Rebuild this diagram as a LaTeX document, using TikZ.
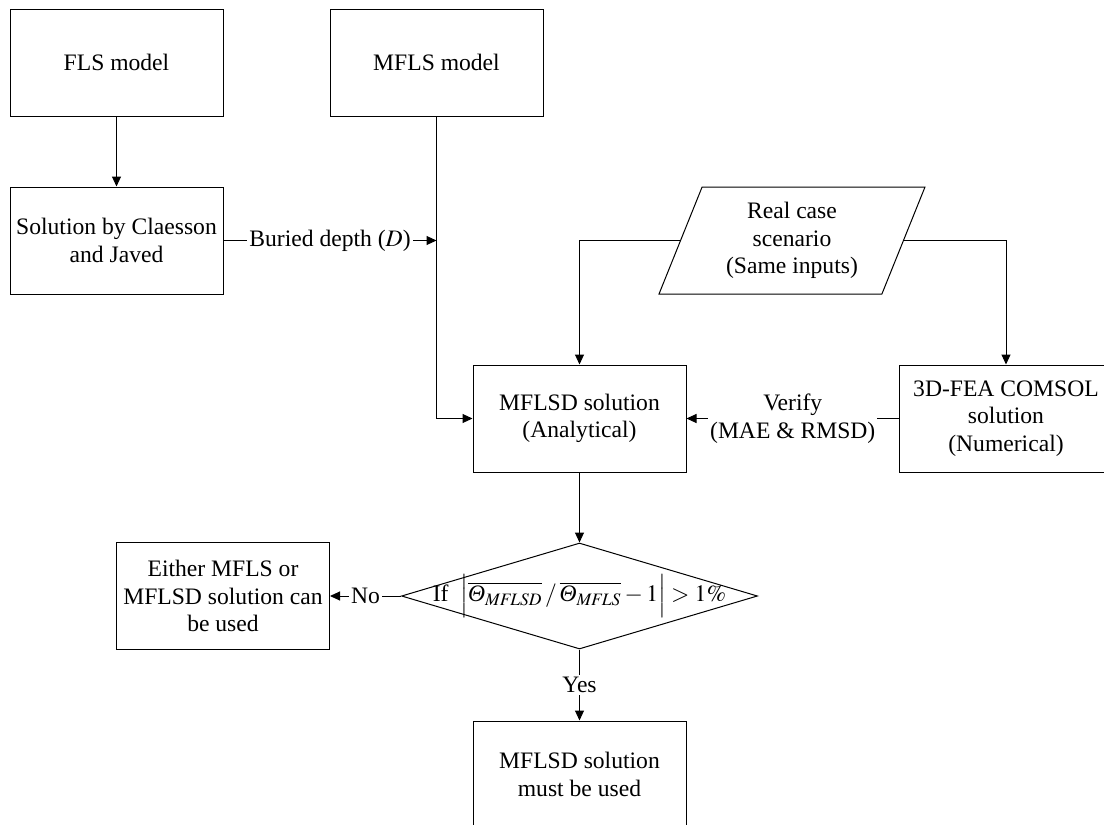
\documentclass[tikz,border=0pt]{standalone}
\usepackage{mathptmx}
\usepackage{fontspec}
\setmainfont{Liberation Serif}
\usetikzlibrary{shapes.geometric,arrows.meta}

\begin{document}
\begin{tikzpicture}[x=0.5pt, y=-0.5pt, line width=0.5pt,
  font=\fontsize{11.8}{13.8}\selectfont,
  box/.style={draw, rectangle, minimum width=106.5pt, minimum height=53.5pt, inner sep=2pt, align=center},
  inputbox/.style={draw, trapezium, trapezium left angle=63, trapezium right angle=117, trapezium stretches body, minimum width=133pt, minimum height=53.5pt, inner sep=2pt, align=center},
  decision/.style={draw, diamond, minimum width=178pt, minimum height=53pt, inner sep=0pt},
  lbl/.style={fill=white, inner sep=1pt, align=center},
  arr/.style={-{Triangle[width=4.5pt,length=5pt]}}]
\useasboundingbox (0,0) rectangle (1104,825);

\node (fls) at (116.5,62.5) [box]{FLS model};
\node (mfls) at (436.5,62.5) [box]{MFLS model};
\node (claesson) at (116.5,240.5) [box]{Solution by Claesson\\and Javed};
\node (realcase) at (792,240.5) [inputbox]{Real case\\scenario\\(Same inputs)};
\node (mflsd) at (579.5,418.5) [box]{MFLSD solution\\(Analytical)};
\node (fea) at (1006,418.5) [box]{3D-FEA COMSOL\\solution\\(Numerical)};
\node (cond) at (579.5,596) [decision]{};
\node (condtext) at (cond.center) {If\ \ $\Bigl|\overline{\mbox{\itshape Θ}_{\mathit{MFLSD}}}\,/\,\overline{\mbox{\itshape Θ}_{\mathit{MFLS}}}-1\Bigr|>1\%$};
\node (either) at (223,596) [box]{Either MFLS or\\MFLSD solution can\\be used};
\node (must) at (579.5,774.5) [box]{MFLSD solution\\must be used};

\draw[arr] (fls) -- (claesson);
\draw[arr] (claesson.east) -- node[lbl]{Buried depth ($D$)} (claesson.east -| mfls.south);
\draw[arr] (mfls.south) |- (mflsd.west);
\draw[arr] (realcase.west) -| (mflsd.north);
\draw[arr] (realcase.east) -| (fea.north);
\draw[arr] (fea.west) -- node[lbl]{Verify\\(MAE \& RMSD)} (mflsd.east);
\draw[arr] (mflsd) -- (cond);
\draw[arr] (cond.west) -- node[lbl]{No} (either.east);
\draw[arr] (cond.south) -- node[lbl]{Yes} (must.north);
\end{tikzpicture}
\end{document}
